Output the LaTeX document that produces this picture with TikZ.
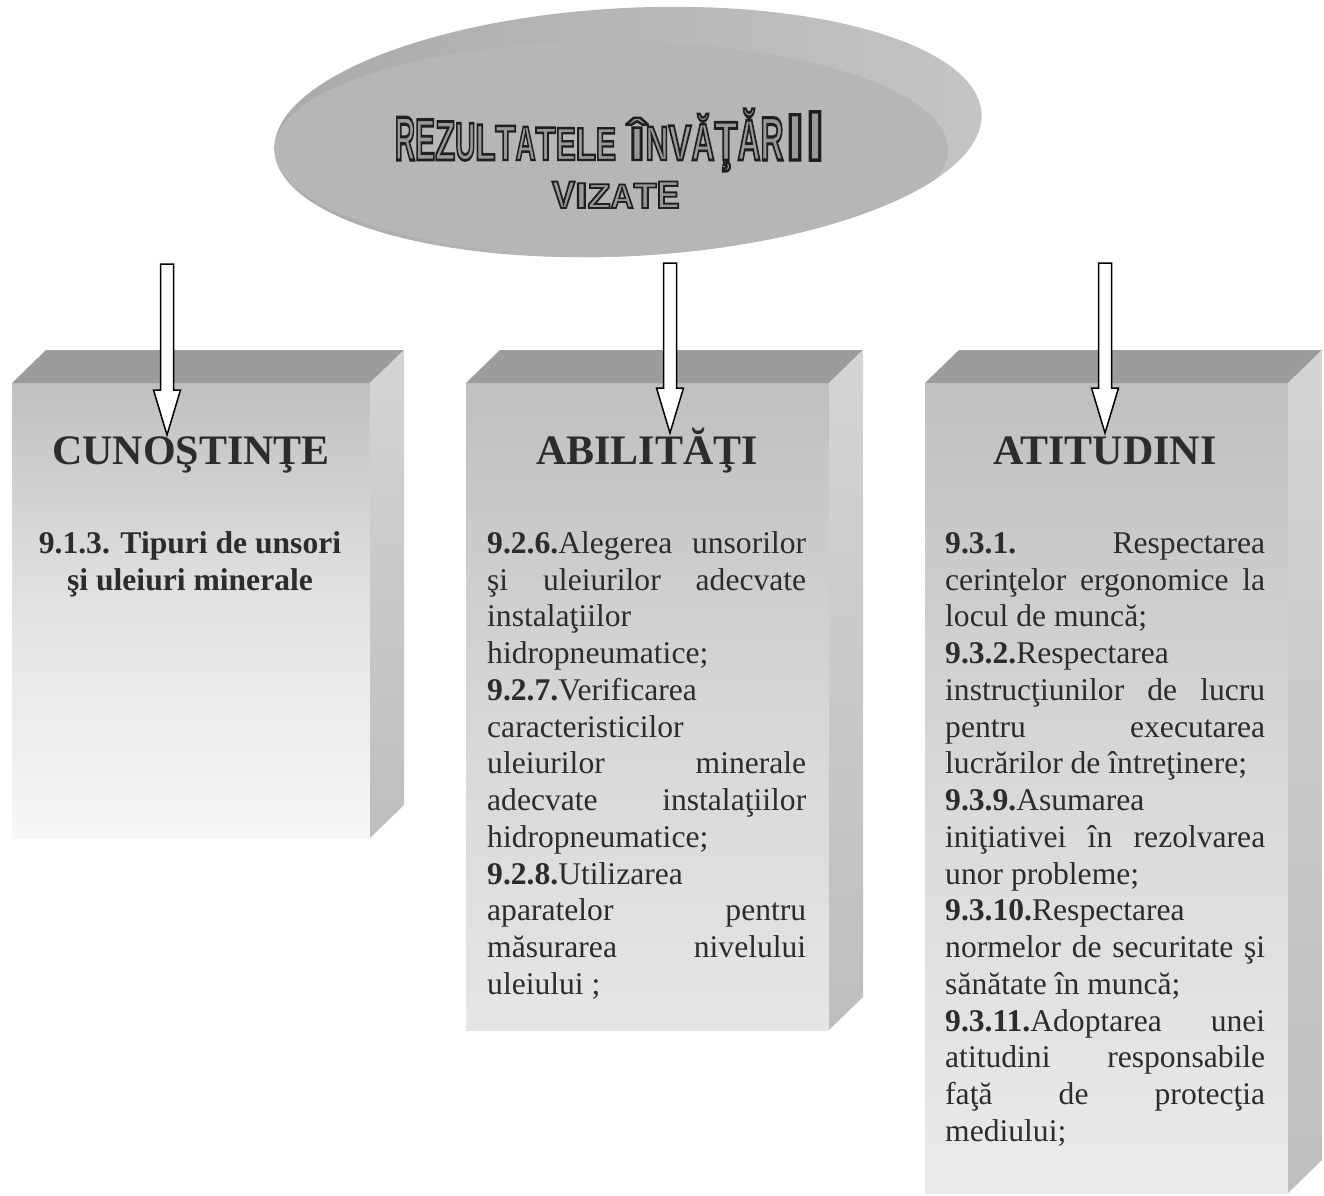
\documentclass[tikz,border=0pt]{standalone}
\usepackage{fontspec}
\usepackage{graphicx}
\setmainfont{Liberation Serif}
\newfontfamily\wafont{Liberation Sans}[BoldFeatures={FakeBold=5}]
\usetikzlibrary{calc}
\definecolor{txt}{HTML}{2C2C2C}
\definecolor{topface}{HTML}{9C9C9C}
\definecolor{frontTop}{HTML}{C0C0C0}
\definecolor{sideTop}{HTML}{D4D4D4}
\definecolor{sideBot}{HTML}{BEBEBE}
\definecolor{rimL}{HTML}{AAAAAA}
\definecolor{rimR}{HTML}{C4C4C4}
\definecolor{facegray}{HTML}{B6B6B6}
\newlength\jw
\newcommand\jl[1]{\makebox[\jw][s]{#1}}
\newcount\wacnt
\tikzset{
  x=1pt, y=-1pt,
  face/.style={inner sep=0, outer sep=0, draw=none, anchor=north west},
  boxtitle/.style={font=\bfseries\fontsize{42}{42}\selectfont, text=txt, anchor=base, inner sep=0},
  body/.style={font=\fontsize{31.6}{36.8}\selectfont, text=txt, anchor=base west, inner sep=0},
  bodyc/.style={font=\bfseries\fontsize{31.6}{36.8}\selectfont, text=txt, anchor=base, inner sep=0},
  wa/.style={font=\wafont\bfseries\fontsize{40}{40}\selectfont, anchor=base, inner sep=0},
  blockarrow/.style={draw=black, fill=white, line width=1.5pt, line join=miter},
}
% one outlined (grey fill, dark stroke), stretched letter of the title
\newcommand\wl[6]{%
  \global\advance\wacnt by 1
  \pgfmathsetmacro\wlsx{#5/(#4*0.04)}%
  \pgfmathsetmacro\wlsy{#6/28.64}%
  \node[wa] (wf\the\wacnt) at (#1,#2) {\special{pdf:bcolor [0.60] [0.12]}\scalebox{\wlsx}[\wlsy]{#3}\special{pdf:ecolor}};}
\newcommand\wA[4]{\pgfmathsetmacro\wah{33+0.00034*(#1-590)*(#1-590)}\wl{#1}{160}{#2}{#3}{#4}{\wah}}
\newcommand\wB[4]{\pgfmathsetmacro\wah{24.5+0.0011*(#1-615)*(#1-615)}\wl{#1}{208}{#2}{#3}{#4}{\wah}}
\newcommand\barrow[2]{\draw[blockarrow] ($(#1)+(-6.5,0)$) -- ($(#2)+(-6.5,-45)$) -- ($(#2)+(-13.5,-45)$) -- (#2) -- ($(#2)+(13.5,-45)$) -- ($(#2)+(6.5,-45)$) -- ($(#1)+(6.5,0)$) -- cycle;}
\begin{document}
\begin{tikzpicture}
\useasboundingbox (0,0) rectangle (1324,1195);
\fill[white] (0,0) rectangle (1324,1195);

% ---------- title disc ----------
\coordinate (e) at (628,132);
\shade[left color=rimL, right color=rimR, rotate around={3:(e)}] (e) ellipse [x radius=354, y radius=124];
\begin{scope}
  \clip[rotate around={3:(e)}] (e) ellipse [x radius=354, y radius=124];
  \fill[facegray] (611,149.5) ellipse [x radius=337, y radius=108];
\end{scope}

% title letters, line 1
\wA{405}{R}{722}{20.1}
\wA{425.1}{E}{667}{20.1}
\wA{445.2}{Z}{611}{20.1}
\wA{465.3}{U}{722}{20.1}
\wA{485.4}{L}{611}{20.1}
\wA{505.5}{T}{611}{20.1}
\wA{525.6}{A}{722}{20.1}
\wA{545.7}{T}{611}{20.1}
\wA{565.8}{E}{667}{20.1}
\wA{585.9}{L}{611}{20.1}
\wA{606}{E}{667}{20.1}
\wA{637}{Î}{278}{16}
\wA{657}{N}{722}{23}
\wA{680}{V}{667}{23}
\wA{703}{Ă}{722}{23}
\wA{726}{Ţ}{611}{23}
\wA{749}{Ă}{722}{23}
\wA{772}{R}{722}{23}
\wA{795}{I}{278}{18}
\wA{815}{I}{278}{18}
% title letters, line 2
\wB{563.5}{V}{667}{23}
\wB{581.3}{I}{278}{13}
\wB{599.1}{Z}{611}{23}
\wB{622.1}{A}{722}{23}
\wB{645.1}{T}{611}{23}
\wB{668.1}{E}{667}{23}

% ---------- boxes ----------
\node[face, top color=frontTop, bottom color=white!97!black, middle color=white!89!black, minimum width=358, minimum height=455] (b1) at (12,383) {};
\node[face, top color=frontTop, bottom color=white!90!black, middle color=white!84!black, minimum width=363, minimum height=647] (b2) at (466,383) {};
\node[face, top color=frontTop, bottom color=white!92!black, middle color=white!85!black, minimum width=363, minimum height=810] (b3) at (925,383) {};
\foreach \b in {b1,b2,b3}{
  \fill[topface] (\b.north west) -- ++(34,-33) -- ($(\b.north east)+(34,-33)$) -- (\b.north east) -- cycle;
  \shade[top color=sideTop, bottom color=sideBot] (\b.north east) -- ++(34,-33) -- ($(\b.south east)+(34,-33)$) -- (\b.south east) -- cycle;
}

% ---------- box titles ----------
\node[boxtitle] (t1) at (191,464) {CUNOŞTINŢE};
\node[boxtitle] (t2) at (647,464) {ABILITĂŢI};
\node[boxtitle] (t3) at (1105,464) {ATITUDINI};

% ---------- box 1 text ----------
\node[bodyc] (c1) at (190,553) {9.1.3. Tipuri de unsori};
\node[bodyc] (c2) at (190,590) {şi uleiuri minerale};

% ---------- box 2 text ----------
\setlength\jw{319pt}
\foreach \t [count=\i from 0] in {
  {\jl{\textbf{9.2.6.}Alegerea unsorilor}},
  {\jl{şi uleiurilor adecvate}},
  {instalaţiilor},
  {hidropneumatice;},
  {\textbf{9.2.7.}Verificarea},
  {caracteristicilor},
  {\jl{uleiurilor minerale}},
  {\jl{adecvate instalaţiilor}},
  {hidropneumatice;},
  {\textbf{9.2.8.}Utilizarea},
  {\jl{aparatelor pentru}},
  {\jl{măsurarea nivelului}},
  {uleiului ;}}
  \node[body] (m\i) at (487,{553.3+36.75*\i}) {\t};

% ---------- box 3 text ----------
\setlength\jw{320pt}
\foreach \t [count=\i from 0] in {
  {\jl{\textbf{9.3.1.} Respectarea}},
  {\jl{cerinţelor ergonomice la}},
  {locul de muncă;},
  {\textbf{9.3.2.}Respectarea},
  {\jl{instrucţiunilor de lucru}},
  {\jl{pentru executarea}},
  {lucrărilor de întreţinere;},
  {\textbf{9.3.9.}Asumarea},
  {\jl{iniţiativei în rezolvarea}},
  {unor probleme;},
  {\textbf{9.3.10.}Respectarea},
  {\jl{normelor de securitate şi}},
  {sănătate în muncă;},
  {\jl{\textbf{9.3.11.}Adoptarea unei}},
  {\jl{atitudini responsabile}},
  {\jl{faţă de protecţia}},
  {mediului;}}
  \node[body] (r\i) at (945,{553.3+36.75*\i}) {\t};

% ---------- arrows ----------
\coordinate (a1s) at (167,264);  \coordinate (a1t) at (167,435);
\coordinate (a2s) at (670,263);  \coordinate (a2t) at (670,433);
\coordinate (a3s) at (1105,263); \coordinate (a3t) at (1105,433);
\barrow{a1s}{a1t}
\barrow{a2s}{a2t}
\barrow{a3s}{a3t}
\end{tikzpicture}
\end{document}
